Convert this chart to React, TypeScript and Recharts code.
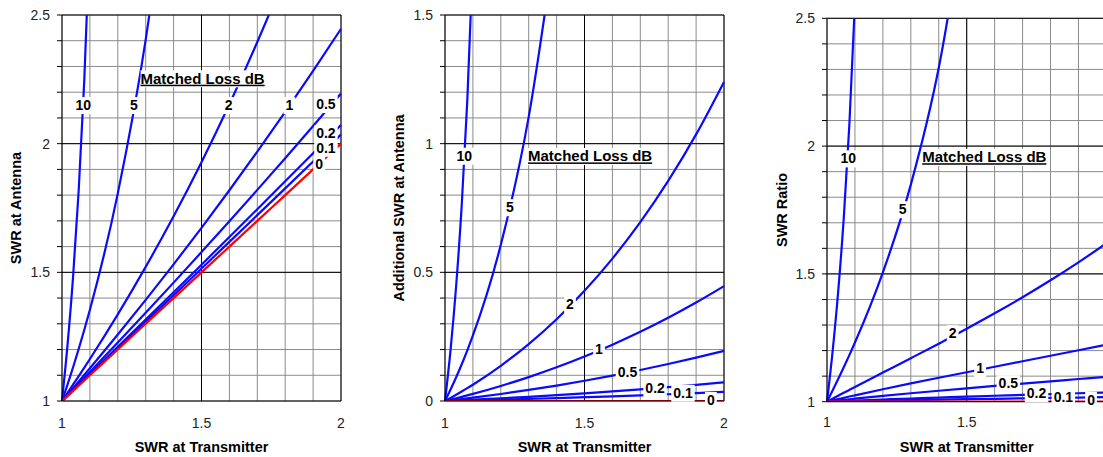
import React from "react";
import { LineChart, Line, XAxis, YAxis, CartesianGrid, ReferenceLine, ReferenceDot } from "recharts";

// SWR at the transmitter (x axis of all three panels)
const swrTx = [1, 1.02, 1.04, 1.06, 1.08, 1.1, 1.2, 1.3, 1.4, 1.5, 1.6, 1.7, 1.8, 1.9, 2];
const lossNames = ["10", "5", "2", "1", "0.5", "0.2", "0.1", "0"];

const xTicks = [1, 1.1, 1.2, 1.3, 1.4, 1.5, 1.6, 1.7, 1.8, 1.9, 2];
const xTickLabels = [1, 1.5, 2];

// panel 1: SWR at antenna
const ant10 = [1, 1.2198, 1.4878, 1.8219, 2.25, 2.8182, null, null, null, null, null, null, null, null, null];
const ant5 = [1, 1.0646, 1.1322, 1.2029, 1.2769, 1.3546, 1.8069, 2.4041, 3.2288, null, null, null, null, null, null];
const ant2 = [1, 1.0319, 1.0642, 1.0968, 1.1298, 1.1633, 1.3367, 1.5212, 1.7179, 1.9282, 2.1533, 2.395, 2.6551, 2.936, 3.24];
const ant1 = [1, 1.0253, 1.0506, 1.0761, 1.1018, 1.1275, 1.2585, 1.3929, 1.5311, 1.673, 1.819, 1.9691, 2.1235, 2.2825, 2.4462];
const ant05 = [1, 1.0225, 1.045, 1.0676, 1.0902, 1.1129, 1.2272, 1.3429, 1.46, 1.5787, 1.6988, 1.8205, 1.9437, 2.0685, 2.1949];
const ant02 = [1, 1.021, 1.0419, 1.0629, 1.0839, 1.105, 1.2104, 1.3164, 1.4228, 1.5298, 1.6373, 1.7453, 1.8538, 1.9628, 2.0724];
const ant01 = [1, 1.0205, 1.041, 1.0614, 1.0819, 1.1025, 1.2051, 1.3081, 1.4112, 1.5147, 1.6183, 1.7222, 1.8263, 1.9307, 2.0354];
const ant0 = [1, 1.02, 1.04, 1.06, 1.08, 1.1, 1.2, 1.3, 1.4, 1.5, 1.6, 1.7, 1.8, 1.9, 2];

// panel 2: additional SWR at antenna
const add10 = [0, 0.1998, 0.4478, 0.7619, 1.17, 1.7182, null, null, null, null, null, null, null, null, null];
const add5 = [0, 0.0446, 0.0922, 0.1429, 0.1969, 0.2546, 0.6069, 1.1041, 1.8288, null, null, null, null, null, null];
const add2 = [0, 0.0119, 0.0242, 0.0368, 0.0498, 0.0633, 0.1367, 0.2212, 0.3179, 0.4282, 0.5533, 0.695, 0.8551, 1.036, 1.24];
const add1 = [0, 0.0053, 0.0106, 0.0161, 0.0218, 0.0275, 0.0585, 0.0929, 0.1311, 0.173, 0.219, 0.2691, 0.3235, 0.3825, 0.4462];
const add05 = [0, 0.0025, 0.005, 0.0076, 0.0102, 0.0129, 0.0272, 0.0429, 0.06, 0.0787, 0.0988, 0.1205, 0.1437, 0.1685, 0.1949];
const add02 = [0, 0.001, 0.0019, 0.0029, 0.0039, 0.005, 0.0104, 0.0164, 0.0228, 0.0298, 0.0373, 0.0453, 0.0538, 0.0628, 0.0724];
const add01 = [0, 0.0005, 0.001, 0.0014, 0.0019, 0.0025, 0.0051, 0.0081, 0.0112, 0.0147, 0.0183, 0.0222, 0.0263, 0.0307, 0.0354];
const add0 = [0, 0, 0, 0, 0, 0, 0, 0, 0, 0, 0, 0, 0, 0, 0];

// panel 3: SWR ratio
const ratio10 = [1, 1.1959, 1.4306, 1.7188, 2.0834, 2.562, null, null, null, null, null, null, null, null, null];
const ratio5 = [1, 1.0438, 1.0887, 1.1348, 1.1823, 1.2314, 1.5058, 1.8493, 2.3063, 2.961, null, null, null, null, null];
const ratio2 = [1, 1.0117, 1.0232, 1.0347, 1.0461, 1.0575, 1.1139, 1.1702, 1.2271, 1.2855, 1.3458, 1.4088, 1.4751, 1.5452, 1.62];
const ratio1 = [1, 1.0052, 1.0102, 1.0152, 1.0202, 1.025, 1.0487, 1.0715, 1.0936, 1.1154, 1.1369, 1.1583, 1.1797, 1.2013, 1.2231];
const ratio05 = [1, 1.0024, 1.0048, 1.0071, 1.0094, 1.0117, 1.0227, 1.033, 1.0429, 1.0524, 1.0617, 1.0709, 1.0798, 1.0887, 1.0975];
const ratio02 = [1, 1.0009, 1.0019, 1.0028, 1.0036, 1.0045, 1.0087, 1.0126, 1.0163, 1.0199, 1.0233, 1.0266, 1.0299, 1.0331, 1.0362];
const ratio01 = [1, 1.0005, 1.0009, 1.0014, 1.0018, 1.0022, 1.0043, 1.0062, 1.008, 1.0098, 1.0114, 1.0131, 1.0146, 1.0162, 1.0177];
const ratio0 = [1, 1, 1, 1, 1, 1, 1, 1, 1, 1, 1, 1, 1, 1, 1];

const ticks1to25 = [1, 1.1, 1.2, 1.3, 1.4, 1.5, 1.6, 1.7, 1.8, 1.9, 2, 2.1, 2.2, 2.3, 2.4, 2.5];
const ticks0to15 = [0, 0.1, 0.2, 0.3, 0.4, 0.5, 0.6, 0.7, 0.8, 0.9, 1, 1.1, 1.2, 1.3, 1.4, 1.5];

// where the curve names sit (data coords)
const lab1X = [1.076, 1.258, 1.597, 1.815, 1.946, 1.946, 1.946, 1.922];
const lab1Y = [2.15, 2.15, 2.15, 2.15, 2.154, 2.04, 1.984, 1.921];
const lab2X = [1.069, 1.233, 1.448, 1.552, 1.654, 1.753, 1.853, 1.953];
const lab2Y = [0.953, 0.753, 0.377, 0.202, 0.114, 0.049, 0.032, 0.004];
const lab3X = [1.076, 1.271, 1.45, 1.548, 1.649, 1.75, 1.846, 1.945];
const lab3Y = [1.952, 1.753, 1.268, 1.131, 1.072, 1.033, 1.02, 1.008];

const BLUE = "#0a0aff";
const RED = "#ff0000";
const FONT = "'Liberation Sans', Arial, Helvetica, sans-serif";

function labelWidth(s: string) {
  let w = 0;
  for (const ch of s) w += ch === "." ? 0.278 : 0.556;
  return w * 14;
}

const boxLabel = (text: string, w: number, size = 14, underline = false) => (props: any) => {
  const { cx, cy } = props;
  if (cx == null || cy == null) return <g />;
  return (
    <g>
      <rect x={cx - w / 2 - 2} y={cy - 8} width={w + 4} height={17} fill="#fff" />
      <text
        x={cx}
        y={cy}
        dy="0.36em"
        textAnchor="middle"
        fontSize={size}
        fontWeight="bold"
        fill="#000"
        textDecoration={underline ? "underline" : undefined}
      >
        {text}
      </text>
    </g>
  );
};

interface PanelProps {
  left: number;
  width: number;
  yWidth: number;
  plotWidth: number;
  plotTop: number;
  plotBottom: number;
  yDomain: [number, number];
  yTicks: number[];
  yTickLabels: number[];
  yMajor: number[];
  series: (number | null)[][];
  labX: number[];
  labY: number[];
  titleX: number;
  titleY: number;
  yTitle: string;
  yTitleOffset: number;
  xTickMargin: number;
}

function Panel(p: PanelProps) {
  const height = 457;
  const data = swrTx.map((x, i) => {
    const row: any = { x };
    p.series.forEach((s, k) => {
      row["s" + k] = s[i];
    });
    return row;
  });
  const fmt = (list: number[]) => (v: number) => {
    const hit = list.find((l) => Math.abs(l - v) < 1e-6);
    return hit === undefined ? "" : String(hit);
  };
  const titleStyle = { fontWeight: "bold", fontSize: 14.5, fill: "#000" };
  return (
    <div style={{ position: "absolute", left: p.left, top: 0 }}>
      <LineChart
        width={p.width}
        height={height}
        data={data}
        margin={{ top: p.plotTop, right: p.width - p.yWidth - p.plotWidth, bottom: 0, left: 0 }}
      >
        <CartesianGrid stroke="#8a8a8a" strokeWidth={1} />
        <XAxis
          dataKey="x"
          type="number"
          domain={[1, 2]}
          ticks={xTicks}
          interval={0}
          tickFormatter={fmt(xTickLabels)}
          tickLine={false}
          tickSize={0}
          tickMargin={p.xTickMargin}
          height={height - p.plotBottom}
          axisLine={{ stroke: "#000" }}
          tick={{ fill: "#222", fontSize: 14 }}
          label={{
            value: "SWR at Transmitter",
            position: "insideBottom",
            offset: 5.5,
            style: titleStyle,
          }}
        />
        <YAxis
          type="number"
          domain={p.yDomain}
          allowDataOverflow
          ticks={p.yTicks}
          interval={0}
          tickFormatter={fmt(p.yTickLabels)}
          tickSize={5}
          tickMargin={7}
          width={p.yWidth}
          axisLine={{ stroke: "#000" }}
          tickLine={{ stroke: "#000" }}
          tick={{ fill: "#222", fontSize: 14 }}
          label={{
            value: p.yTitle,
            angle: -90,
            position: "insideLeft",
            offset: p.yTitleOffset,
            style: { ...titleStyle, textAnchor: "middle" },
          }}
        />
        <ReferenceLine x={1.5} stroke="#000" zIndex={-50} />
        <ReferenceLine x={2} stroke="#000" zIndex={-50} />
        {p.yMajor.map((v) => (
          <ReferenceLine key={"ym" + v} y={v} stroke="#000" zIndex={-50} />
        ))}
        {p.series.map((_, k) => (
          <Line
            key={"s" + k}
            dataKey={"s" + k}
            type="monotone"
            stroke={k === 7 ? RED : BLUE}
            strokeWidth={2.2}
            dot={false}
            activeDot={false}
            connectNulls={false}
            isAnimationActive={false}
          />
        ))}
        {lossNames.map((name, k) => (
          <ReferenceDot
            key={"lab" + k}
            x={p.labX[k]}
            y={p.labY[k]}
            r={0}
            ifOverflow="visible"
            zIndex={2500}
            shape={boxLabel(name, labelWidth(name))}
          />
        ))}
        <ReferenceDot
          x={p.titleX}
          y={p.titleY}
          r={0}
          ifOverflow="visible"
          zIndex={2500}
          shape={boxLabel("Matched Loss dB", 120, 15, true)}
        />
      </LineChart>
    </div>
  );
}

export default function App() {
  return (
    <div
      style={{
        position: "fixed",
        left: 0,
        top: 0,
        width: 1103,
        height: 457,
        overflow: "hidden",
        background: "#fff",
        fontFamily: FONT,
      }}
    >
      <Panel
        left={0}
        width={360}
        yWidth={62}
        plotWidth={279}
        plotTop={15}
        plotBottom={401}
        yDomain={[1, 2.5]}
        yTicks={ticks1to25}
        yTickLabels={[1, 1.5, 2, 2.5]}
        yMajor={[1.5, 2, 2.5]}
        series={[ant10, ant5, ant2, ant1, ant05, ant02, ant01, ant0]}
        labX={lab1X}
        labY={lab1Y}
        titleX={1.504}
        titleY={2.254}
        yTitle="SWR at Antenna"
        yTitleOffset={16}
        xTickMargin={17.4}
      />
      <Panel
        left={370}
        width={370}
        yWidth={75}
        plotWidth={279}
        plotTop={15}
        plotBottom={401}
        yDomain={[0, 1.5]}
        yTicks={ticks0to15}
        yTickLabels={[0, 0.5, 1, 1.5]}
        yMajor={[0.5, 1, 1.5]}
        series={[add10, add5, add2, add1, add05, add02, add01, add0]}
        labX={lab2X}
        labY={lab2Y}
        titleX={1.52}
        titleY={0.952}
        yTitle="Additional SWR at Antenna"
        yTitleOffset={29}
        xTickMargin={17.4}
      />
      <Panel
        left={750}
        width={370}
        yWidth={77}
        plotWidth={279.4}
        plotTop={18.3}
        plotBottom={401.7}
        yDomain={[1, 2.5]}
        yTicks={ticks1to25}
        yTickLabels={[1, 1.5, 2, 2.5]}
        yMajor={[1.5, 2, 2.5]}
        series={[ratio10, ratio5, ratio2, ratio1, ratio05, ratio02, ratio01, ratio0]}
        labX={lab3X}
        labY={lab3Y}
        titleX={1.563}
        titleY={1.958}
        yTitle="SWR Ratio"
        yTitleOffset={31.7}
        xTickMargin={15.4}
      />
    </div>
  );
}
